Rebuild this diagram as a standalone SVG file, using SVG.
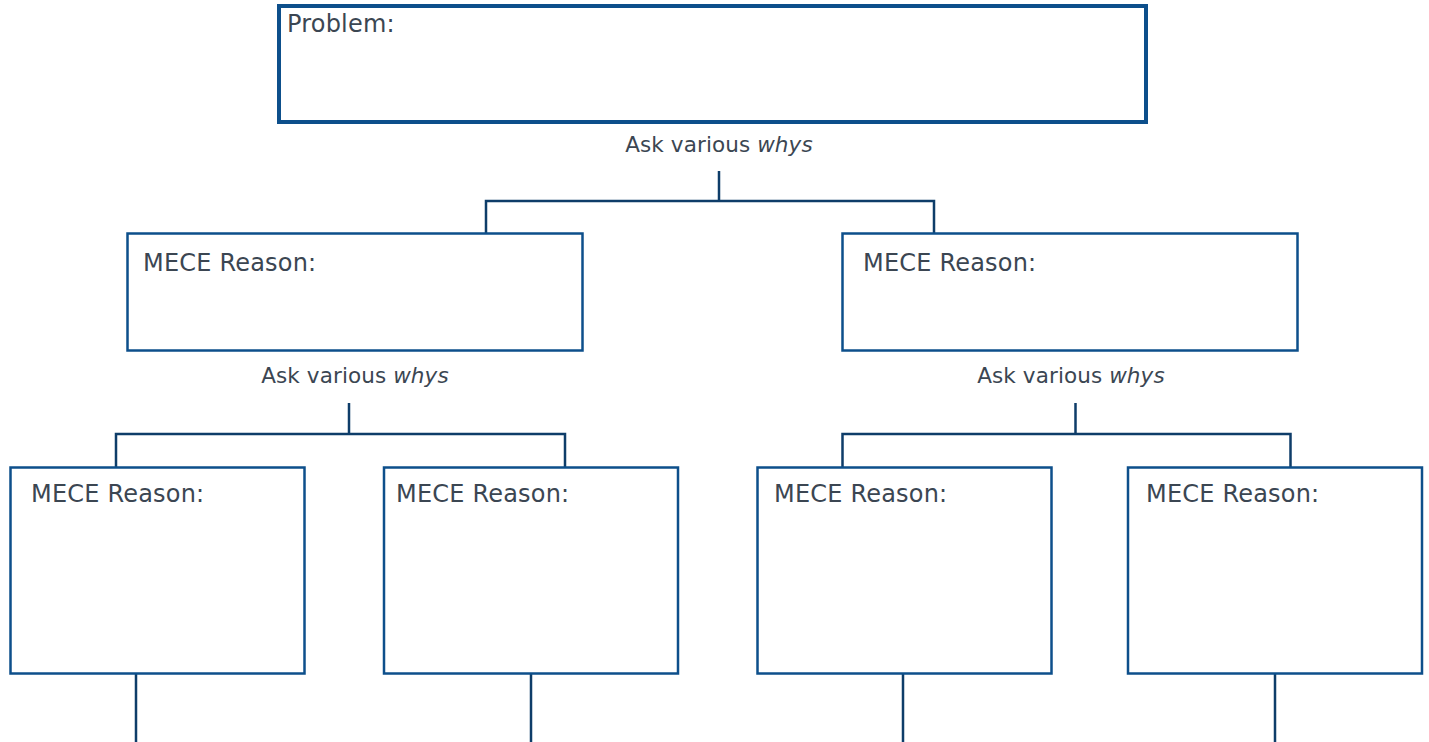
<svg xmlns="http://www.w3.org/2000/svg" width="1429" height="742" viewBox="0 0 1429 742">
<style>
.box{fill:#fff;stroke:#0d4f8b;stroke-width:2.5}
.top{fill:#fff;stroke:#0d4f8b;stroke-width:4}
.t{font-family:"DejaVu Sans",Verdana,sans-serif;font-size:24px;letter-spacing:0.2px;fill:#3b4652}
.lbl{font-family:"DejaVu Sans",Verdana,sans-serif;font-size:21.5px;letter-spacing:0.1px;fill:#3b4652;text-anchor:middle}
.c{fill:none;stroke:#0e3d69;stroke-width:2.5}
</style>
<rect width="1429" height="742" fill="#fff"/>
<g id="connectors">
<path class="c" d="M719 171V201M486 233V201H934V233"/>
<path class="c" d="M349 403V434M116 467V434H565V467"/>
<path class="c" d="M1075.5 403V434M842.5 467V434H1290.5V467"/>
<path class="c" d="M136 674V742M531 674V742M903 674V742M1275 674V742"/>
</g>
<g id="labels">
<text class="lbl" x="719" y="152">Ask various <tspan font-style="italic">whys</tspan></text>
<text class="lbl" x="355" y="383">Ask various <tspan font-style="italic">whys</tspan></text>
<text class="lbl" x="1071" y="383">Ask various <tspan font-style="italic">whys</tspan></text>
</g>
<g id="problem">
<rect class="top" x="279" y="6" width="867" height="116"/>
<text class="t" x="287" y="31.5">Problem:</text>
</g>
<g id="reason-l">
<rect class="box" x="127.5" y="233.5" width="455" height="117"/>
<text class="t" x="143" y="271">MECE Reason:</text>
</g>
<g id="reason-r">
<rect class="box" x="842.5" y="233.5" width="455" height="117"/>
<text class="t" x="863" y="271">MECE Reason:</text>
</g>
<g id="reason-ll">
<rect class="box" x="10.5" y="467.5" width="294" height="206"/>
<text class="t" x="31" y="502">MECE Reason:</text>
</g>
<g id="reason-lr">
<rect class="box" x="384" y="467.5" width="294" height="206"/>
<text class="t" x="396" y="502">MECE Reason:</text>
</g>
<g id="reason-rl">
<rect class="box" x="757.5" y="467.5" width="294" height="206"/>
<text class="t" x="774" y="502">MECE Reason:</text>
</g>
<g id="reason-rr">
<rect class="box" x="1128" y="467.5" width="294" height="206"/>
<text class="t" x="1146" y="502">MECE Reason:</text>
</g>
</svg>
